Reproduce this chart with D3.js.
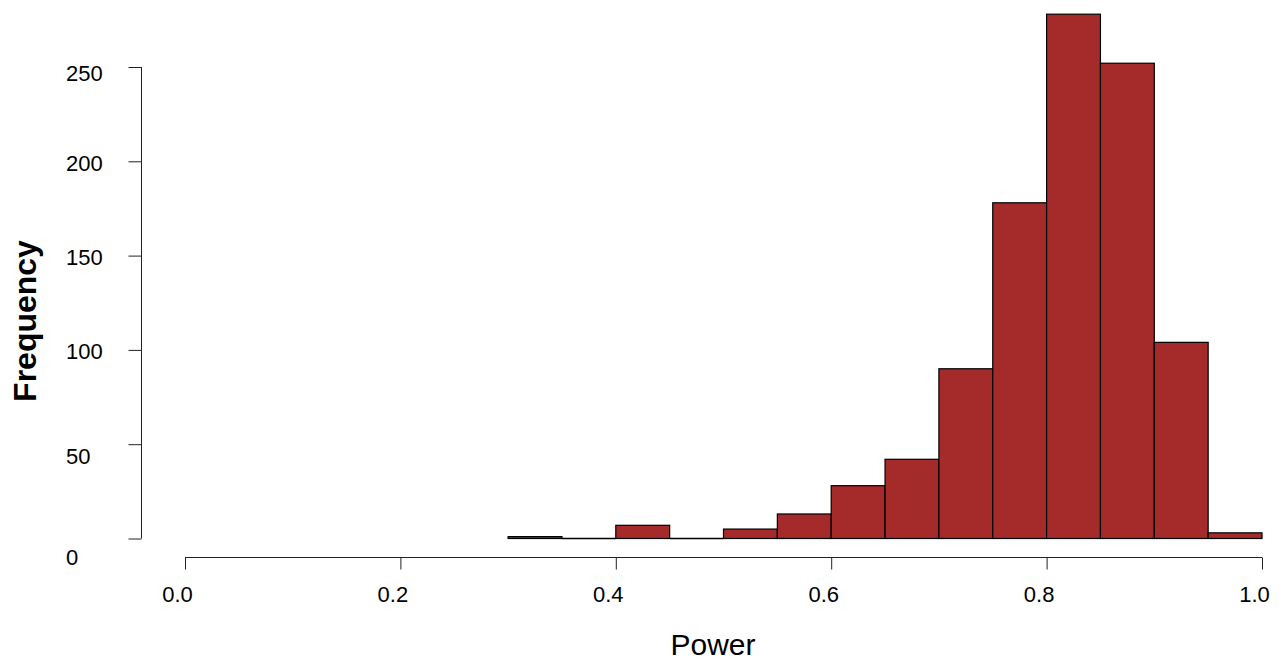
<!DOCTYPE html>
<html>
<head>
<meta charset="utf-8">
<script src="https://cdn.jsdelivr.net/npm/d3@7"></script>
<style>
  body { margin: 0; background: #fff; }
  text { font-family: "Liberation Sans", Arial, sans-serif; }
</style>
</head>
<body>
<div id="chart"></div>
<script>
//  Data  //
var binStarts = [0.30, 0.35, 0.40, 0.45, 0.50, 0.55, 0.60, 0.65, 0.70, 0.75, 0.80, 0.85, 0.90, 0.95];
var counts    = [1, 0, 7, 0, 5, 13, 28, 42, 90, 178, 278, 252, 104, 3];
var binWidth  = 0.05;
var xTicks = [0.0, 0.2, 0.4, 0.6, 0.8, 1.0];
var yTicks = [0, 50, 100, 150, 200, 250];
// small vertical shifts of the y labels, as in the picture
var yLabelShift = [19, 12, 1, 2, 2, 6];

var width = 1282, height = 664;
var svg = d3.select("#chart").append("svg").attr("width", width).attr("height", height);

var scaleX = d3.scaleLinear().domain([0, 1]).range([185, 1262]);
var scaleY = d3.scaleLinear().domain([0, 250]).range([538.5, 67]);

//  Bars  //
var bins = binStarts.map(function(s, i){ return {x0: s, x1: s + binWidth, n: counts[i]}; });
svg.selectAll(".bar").data(bins.filter(function(d){ return d.n > 0; })).enter().append("rect")
    .attr("class", "bar")
    .attr("x", function(d){ return scaleX(d.x0); })
    .attr("width", function(d){ return scaleX(d.x1) - scaleX(d.x0); })
    .attr("y", function(d){ return scaleY(d.n); })
    .attr("height", function(d){ return scaleY(0) - scaleY(d.n); })
    .attr("fill", "#A52A2A").attr("stroke", "#000").attr("stroke-width", 1.2);

// empty bins: R still draws the outline as a flat line
svg.selectAll(".empty").data(bins.filter(function(d){ return d.n == 0; })).enter().append("line")
    .attr("class", "empty")
    .attr("x1", function(d){ return scaleX(d.x0); })
    .attr("x2", function(d){ return scaleX(d.x1); })
    .attr("y1", scaleY(0)).attr("y2", scaleY(0))
    .attr("stroke", "#000").attr("stroke-width", 1.4);

//  X axis  //
var axisX = d3.axisBottom(scaleX).tickValues(xTicks).tickFormat(d3.format(".1f")).tickSize(12).tickPadding(17);
var gx = svg.append("g").attr("transform", "translate(0,557.5)").call(axisX);
gx.select(".domain").attr("stroke", "#222").attr("d", "M" + scaleX(0) + ",0H" + scaleX(1));
gx.selectAll(".tick line").attr("stroke", "#222");
gx.selectAll(".tick text").attr("font-size", 22).attr("fill", "#000").attr("dx", -8)
    .attr("font-family", "Liberation Sans, Arial, sans-serif");

//  Y axis  //
var axisY = d3.axisLeft(scaleY).tickValues(yTicks).tickSize(13).tickFormat("");
var gy = svg.append("g").attr("transform", "translate(141.5,0)").call(axisY);
gy.select(".domain").attr("stroke", "#222").attr("d", "M0," + scaleY(0) + "V" + scaleY(250));
gy.selectAll(".tick line").attr("stroke", "#222");

svg.selectAll(".ylab").data(yTicks).enter().append("text")
    .attr("class", "ylab")
    .attr("x", 66)
    .attr("y", function(d, i){ return scaleY(d) + yLabelShift[i]; })
    .attr("dy", "0.35em")
    .attr("text-anchor", "start")
    .attr("font-size", 22)
    .text(function(d){ return d; });

//  Titles  //
svg.append("text").attr("x", 713).attr("y", 655).attr("text-anchor", "middle")
    .attr("font-size", 30).text("Power");
svg.append("text").attr("transform", "translate(36,321) rotate(-90)").attr("text-anchor", "middle")
    .attr("font-size", 32).attr("font-weight", "bold").text("Frequency");
</script>
</body>
</html>
